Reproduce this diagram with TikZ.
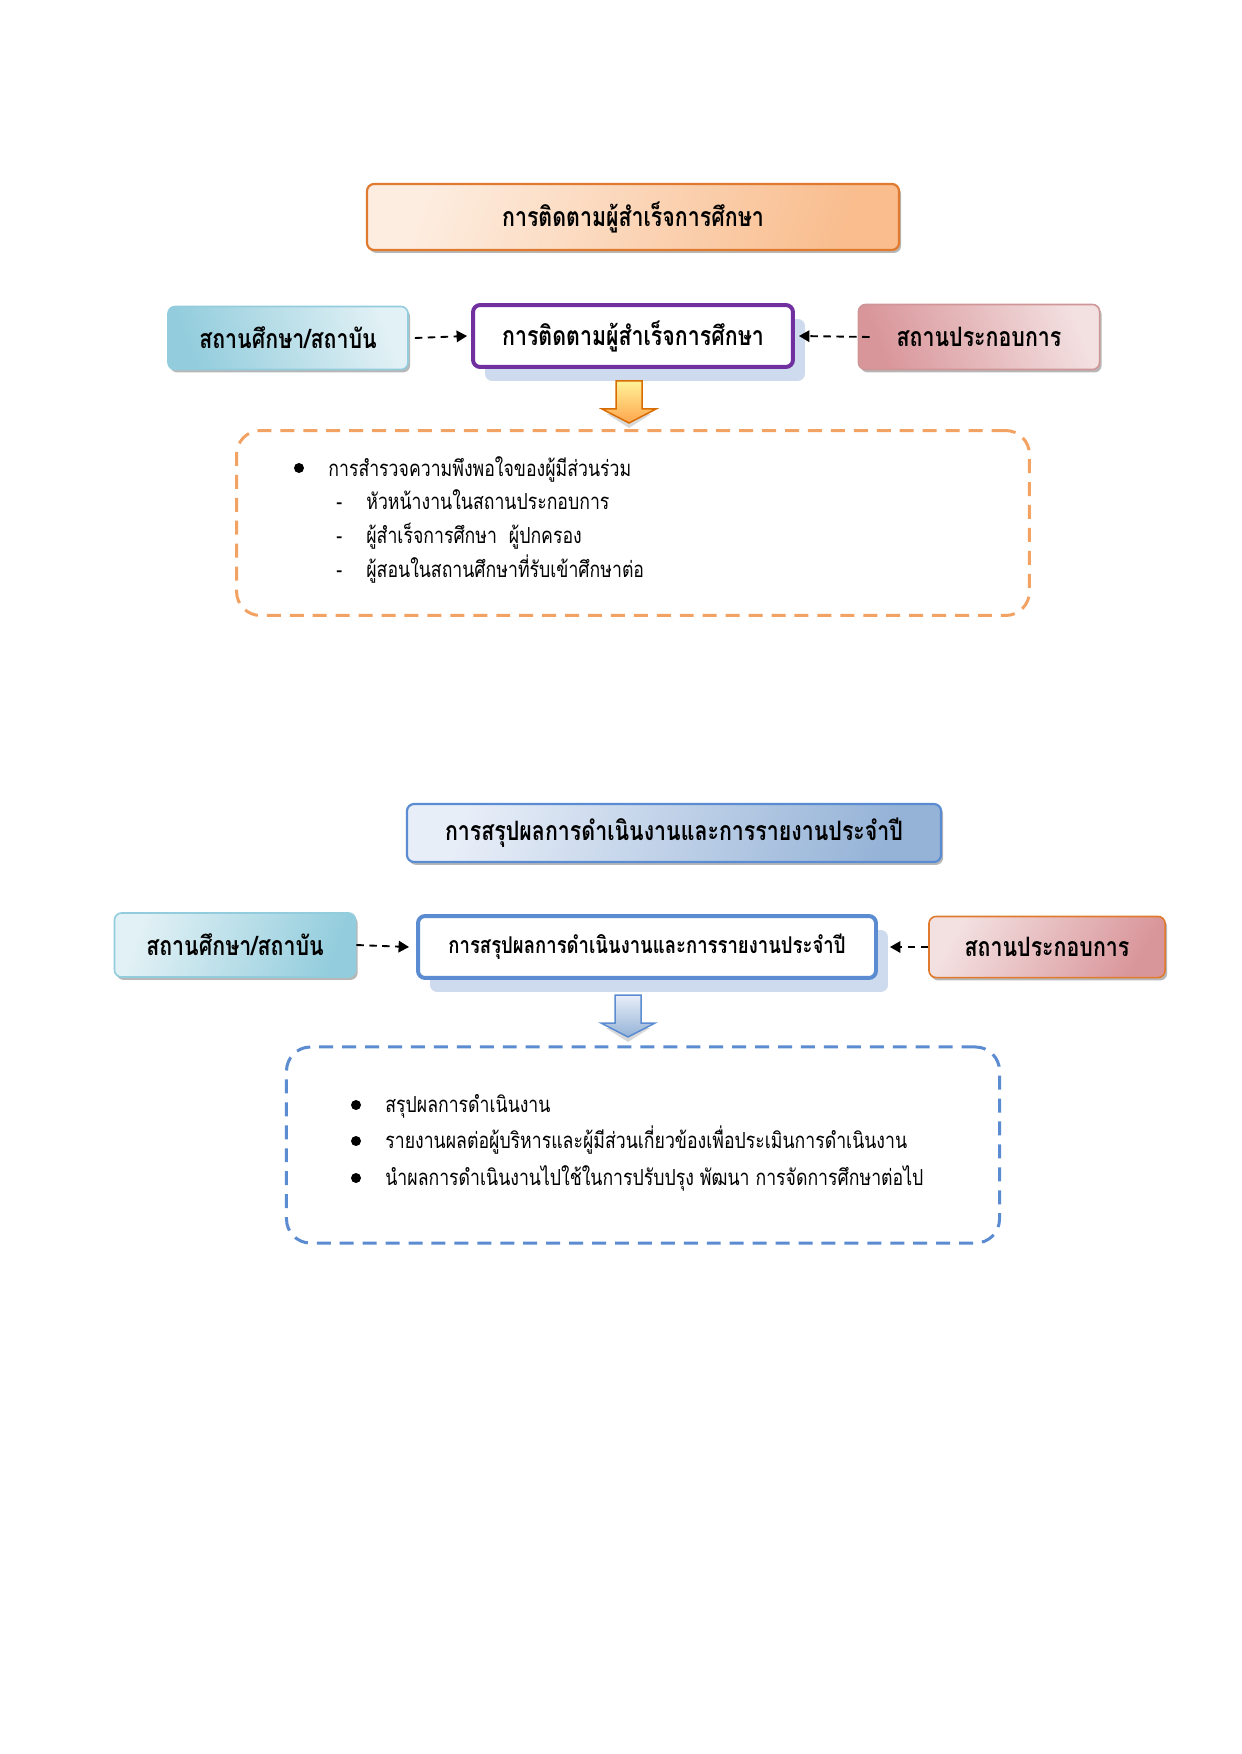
\documentclass[tikz,border=0pt]{standalone}
\usepackage{fontspec}
\usetikzlibrary{arrows.meta,shadows}
\newfontfamily\thai[Script=Thai,FakeStretch=0.8]{Loma}

\definecolor{orangeedge}{HTML}{E07A2E}
\definecolor{orangelight}{HTML}{FDEDE0}
\definecolor{orangedark}{HTML}{F9BD8E}
\definecolor{tealdark}{HTML}{93CDDD}
\definecolor{teallight}{HTML}{E2F1F5}
\definecolor{pinkdark}{HTML}{D9969A}
\definecolor{pinklight}{HTML}{F3E0E1}
\definecolor{pinkedge}{HTML}{CF9698}
\definecolor{bluelight}{HTML}{E8EEF8}
\definecolor{bluedark}{HTML}{95B3D7}
\definecolor{blueedge}{HTML}{5B8BD0}
\definecolor{purpleedge}{HTML}{7030A0}
\definecolor{shadowblue}{HTML}{C9D7EC}
\definecolor{dashorange}{HTML}{F2A262}

\tikzset{
  headfont/.style={font=\thai\bfseries\fontsize{12.8}{15}\selectfont},
  bodyfont/.style={font=\thai\fontsize{10.6}{12}\selectfont},
  boxshadow/.style={drop shadow={shadow xshift=1pt, shadow yshift=-1.4pt, fill=black!40, opacity=0.7}},
  titlebox/.style={headfont, rounded corners=3.4pt, line width=1.05pt, boxshadow},
  sidebox/.style={headfont, rounded corners=3.4pt, line width=0.77pt, boxshadow},
  mainbox/.style={headfont, fill=white, rounded corners=3.4pt, line width=1.9pt,
    drop shadow={shadow xshift=5.75pt, shadow yshift=-6.7pt, fill=shadowblue, opacity=0.9}},
  listbox/.style={rounded corners=11.5pt, line width=1.44pt, dash pattern=on 6.7pt off 4.3pt},
  feed/.style={line width=0.9pt, dash pattern=on 3.6pt off 2.6pt, -{Triangle[length=5pt, width=5.5pt]}},
  dot/.style={circle, fill=black, inner sep=0pt, minimum size=4.8pt}
}

\newcommand\blockdown[4]{% top point, top colour, bottom colour, edge colour
  \path[shift={(#1)}, fill=black!30, opacity=0.5] (-22,33) -- (0,47) -- (22,33) -- cycle;
  \path[shift={(#1)}, top color=#2, bottom color=#3, draw=#4, line width=0.72pt]
    (-13,0) -- (13,0) -- (13,28) -- (27,28) -- (0,42) -- (-27,28) -- (-13,28) -- cycle;
}

\begin{document}
\begin{tikzpicture}[x=0.4795pt, y=-0.4795pt]
\useasboundingbox (0,0) rectangle (1241,1754);

% --- follow-up of graduates
\node[titlebox, draw=orangeedge, left color=orangelight, right color=orangedark, shading angle=70,
  minimum width=255.1pt, minimum height=31.65pt] (title1) at (633,217) {การติดตามผู้สำเร็จการศึกษา};
\node[sidebox, draw=tealdark, left color=tealdark, right color=teallight, shading angle=110,
  minimum width=115.1pt, minimum height=30.2pt] (inst1) at (288,338) {สถานศึกษา/สถาบัน};
\node[mainbox, draw=purpleedge, minimum width=153.4pt, minimum height=29.7pt] (follow1) at (633,336) {การติดตามผู้สำเร็จการศึกษา};
\node[sidebox, draw=pinkedge, left color=pinkdark, right color=pinklight, shading angle=110,
  minimum width=115.6pt, minimum height=31.2pt] (firm1) at (979,337) {สถานประกอบการ};

\draw[feed] ([xshift=2.88pt]inst1.east) -- ([xshift=-1.92pt]follow1.west);
\draw[feed] ([xshift=5.75pt]firm1.west) -- ([xshift=1.92pt]follow1.east);

\coordinate (drop1) at (629,381);
\blockdown{drop1}{orange!25!yellow!40}{orange!70}{orange!85!black}

\node[listbox, draw=dashorange, minimum width=380.2pt, minimum height=88.7pt] (survey1) at (633,523) {};
\node[dot] (b1) at (299,468) {};
\node[bodyfont, anchor=base west] (s1) at (321,477) {การสำรวจความพึงพอใจของผู้มีส่วนร่วม};
\foreach \y/\txt [count=\i] in {510/หัวหน้างานในสถานประกอบการ, 543/ผู้สำเร็จการศึกษา\ \ ผู้ปกครอง, 577/ผู้สอนในสถานศึกษาที่รับเข้าศึกษาต่อ}{
  \node[bodyfont, anchor=base west] (d\i) at (329,\y) {-};
  \node[bodyfont, anchor=base west] (t\i) at (359,\y) {\txt};
}

% --- annual report
\node[titlebox, draw=blueedge, left color=bluelight, right color=bluedark, shading angle=70,
  minimum width=256.1pt, minimum height=27.8pt] (title2) at (674,833) {การสรุปผลการดำเนินงานและการรายงานประจำปี};
\node[sidebox, draw=tealdark, left color=teallight, right color=tealdark, shading angle=70,
  minimum width=115.6pt, minimum height=30.7pt] (inst2) at (235,945) {สถานศึกษา/สถาบัน};
\node[mainbox, draw=blueedge, minimum width=219.6pt, minimum height=29.7pt,
  font=\thai\bfseries\fontsize{11.1}{13}\selectfont] (report2) at (647,947) {การสรุปผลการดำเนินงานและการรายงานประจำปี};
\node[sidebox, draw=orangeedge, left color=pinklight, right color=pinkdark, shading angle=60,
  minimum width=113.2pt, minimum height=29.3pt] (firm2) at (1047,947) {สถานประกอบการ};

\draw[feed] (inst2.east) -- ([xshift=-3.36pt]report2.west);
\draw[feed] (firm2.west) -- ([xshift=5.75pt]report2.east);

\coordinate (drop2) at (628,995);
\blockdown{drop2}{bluelight}{bluedark}{blueedge}

\node[listbox, draw=blueedge, minimum width=341.9pt, minimum height=94pt] (summary2) at (643,1145) {};
\foreach \y/\txt [count=\i] in {1105/สรุปผลการดำเนินงาน, 1141/รายงานผลต่อผู้บริหารและผู้มีส่วนเกี่ยวข้องเพื่อประเมินการดำเนินงาน, 1178/นำผลการดำเนินงานไปใช้ในการปรับปรุง พัฒนา การจัดการศึกษาต่อไป}{
  \node[dot] (c\i) at (356,\y) {};
  \node[bodyfont, anchor=base west] (r\i) at (378,\y+7) {\txt};
}
\end{tikzpicture}
\end{document}
